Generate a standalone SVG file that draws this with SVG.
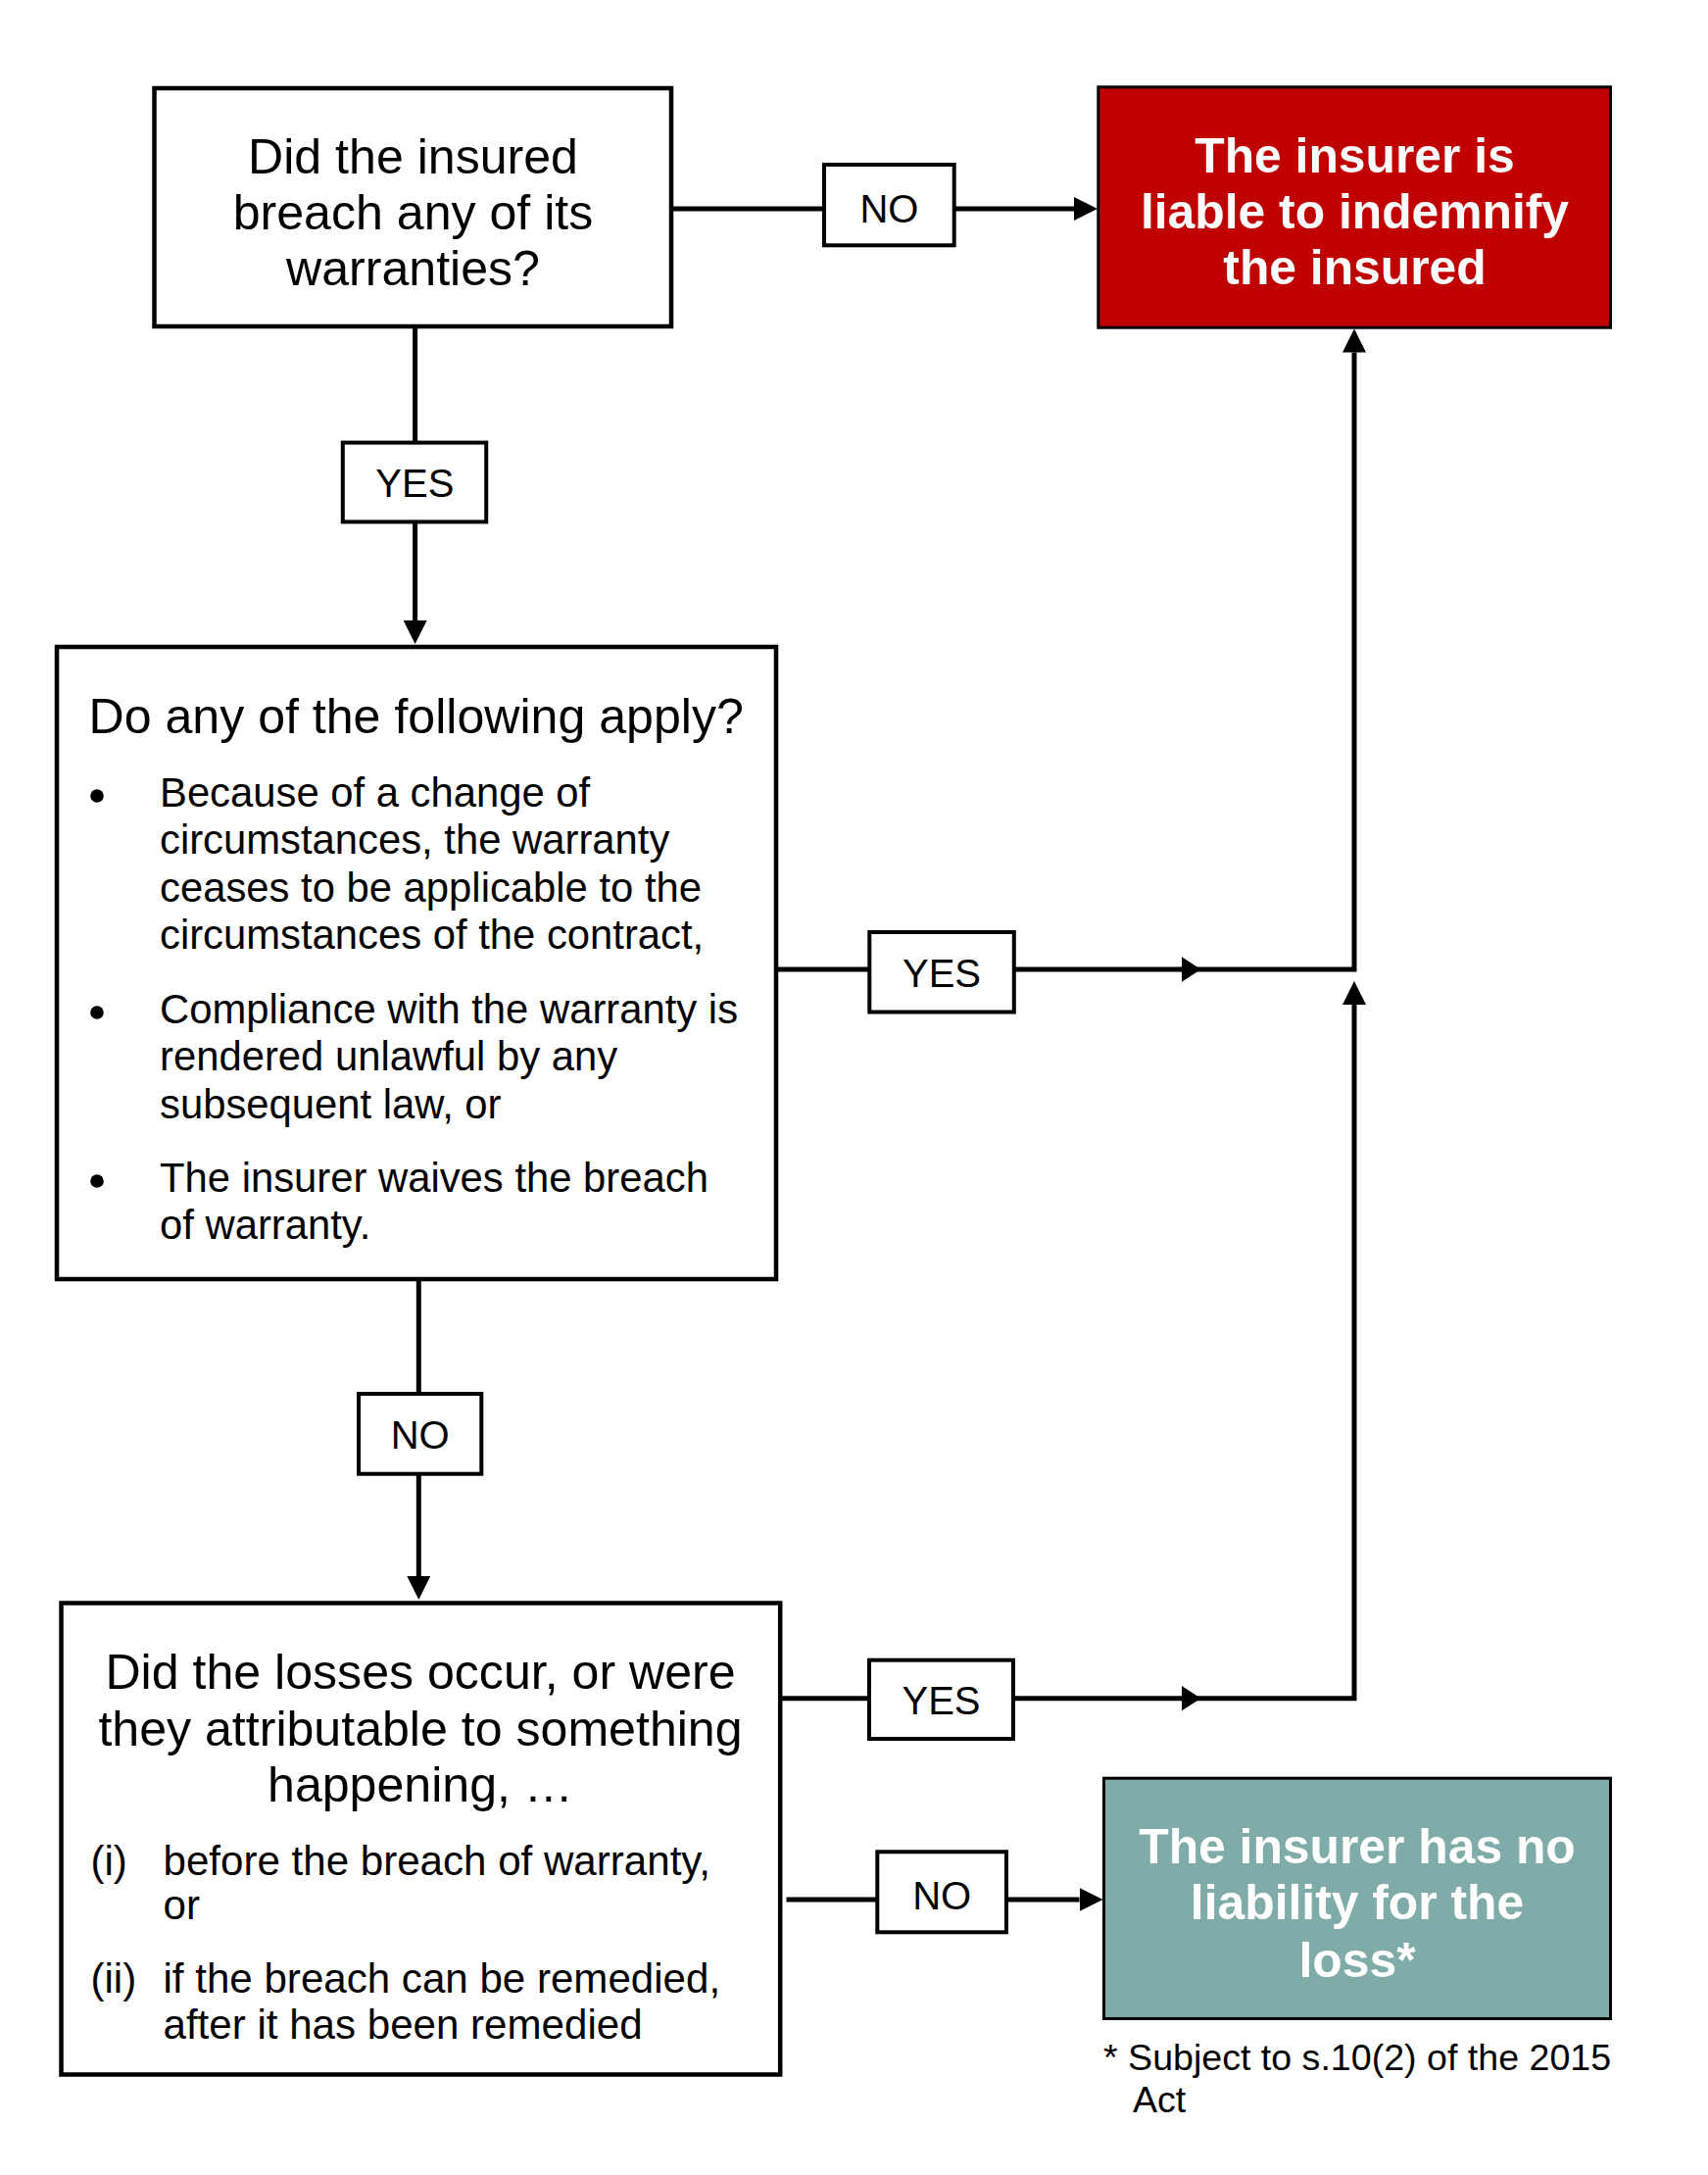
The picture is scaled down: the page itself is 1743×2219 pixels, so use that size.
<svg xmlns="http://www.w3.org/2000/svg" width="1743" height="2219" viewBox="0 0 1743 2219">
<style>
text{font-family:"Liberation Sans",Arial,Helvetica,sans-serif;fill:#000}
.box{fill:#fff;stroke:#000;stroke-width:4.5}
.lbl{fill:#fff;stroke:#000;stroke-width:4}
.q{font-size:50.1px;text-anchor:middle}
.b{font-size:41.8px}
.i{font-size:42.1px}
.l{font-size:40px;text-anchor:middle}
.w{font-size:49.8px;font-weight:bold;text-anchor:middle;fill:#fff}
.c{fill:none;stroke:#000;stroke-width:5;stroke-linejoin:miter}
</style>
<defs>
<marker id="arr" markerUnits="userSpaceOnUse" viewBox="0 0 24 24" refX="0" refY="12" markerWidth="24" markerHeight="24" orient="auto"><path d="M0,0 L24,12 L0,24 Z" fill="#000"/></marker>
<marker id="arrm" markerUnits="userSpaceOnUse" viewBox="0 0 20 26" refX="0" refY="13" markerWidth="20" markerHeight="26" orient="auto"><path d="M0,0 L20,13 L0,26 Z" fill="#000"/></marker>
</defs>
<rect width="1743" height="2219" fill="#fff"/>
<g id="connectors">
<path class="c" d="M423.6,333 V451.6"/>
<path class="c" d="M423.6,532.4 V633" marker-end="url(#arr)"/>
<path class="c" d="M685,213 H841"/>
<path class="c" d="M973.7,213 H1096" marker-end="url(#arr)"/>
<path class="c" d="M792,989 H887.3"/>
<path class="c" d="M1034.8,989 H1205.5" marker-end="url(#arrm)"/>
<path class="c" d="M1205,989 H1382 V359.5" marker-end="url(#arr)"/>
<path class="c" d="M427.3,1305 V1422"/>
<path class="c" d="M427.3,1503.7 V1608" marker-end="url(#arr)"/>
<path class="c" d="M796,1732.7 H887"/>
<path class="c" d="M1034,1732.7 H1205.5" marker-end="url(#arrm)"/>
<path class="c" d="M1205,1732.7 H1382 V1025" marker-end="url(#arr)"/>
<path class="c" d="M802.5,1938 H895.3"/>
<path class="c" d="M1027,1938 H1101.5" marker-end="url(#arr)"/>
</g>
<g id="q1">
<rect class="box" x="157.5" y="90" width="527.5" height="243"/>
<text class="q" x="421.5" y="177.2">Did the insured</text>
<text class="q" x="421.5" y="233.8">breach any of its</text>
<text class="q" x="421.5" y="291">warranties?</text>
</g>
<g id="liable">
<rect x="1120.8" y="88.8" width="522.7" height="245.4" fill="#C00000" stroke="#000" stroke-width="3"/>
<text class="w" x="1382.5" y="176">The insurer is</text>
<text class="w" x="1382.5" y="233.3">liable to indemnify</text>
<text class="w" x="1382.5" y="290">the insured</text>
</g>
<g id="label-no-1">
<rect class="lbl" x="841" y="168" width="132.7" height="82.3"/>
<text class="l" x="907.4" y="226.7">NO</text>
</g>
<g id="label-yes-1">
<rect class="lbl" x="349.8" y="451.6" width="146.4" height="80.8"/>
<text class="l" x="423.3" y="506.7">YES</text>
</g>
<g id="q2">
<rect class="box" x="58" y="660" width="734" height="645"/>
<text x="90.5" y="748" style="font-size:50.1px">Do any of the following apply?</text>
<circle cx="99" cy="812" r="6.8"/>
<circle cx="99" cy="1033" r="6.8"/>
<circle cx="99" cy="1205" r="6.8"/>
<text class="b" x="163" y="823">Because of a change of</text>
<text class="b" x="163" y="871.3">circumstances, the warranty</text>
<text class="b" x="163" y="919.6">ceases to be applicable to the</text>
<text class="b" x="163" y="967.9">circumstances of the contract,</text>
<text class="b" x="163" y="1044">Compliance with the warranty is</text>
<text class="b" x="163" y="1092.3">rendered unlawful by any</text>
<text class="b" x="163" y="1140.6">subsequent law, or</text>
<text class="b" x="163" y="1216">The insurer waives the breach</text>
<text class="b" x="163" y="1264.3">of warranty.</text>
</g>
<g id="label-yes-2">
<rect class="lbl" x="887.3" y="951" width="147.5" height="81.5"/>
<text class="l" x="961" y="1006.7">YES</text>
</g>
<g id="label-no-2">
<rect class="lbl" x="366" y="1422" width="125.3" height="81.7"/>
<text class="l" x="428.7" y="1478.3">NO</text>
</g>
<g id="q3">
<rect class="box" x="62.5" y="1635.5" width="733.7" height="481"/>
<text class="q" x="429" y="1723">Did the losses occur, or were</text>
<text class="q" x="429" y="1780.5">they attributable to something</text>
<text class="q" x="429" y="1838">happening, …</text>
<text class="i" x="92.5" y="1912.5">(i)</text>
<text class="i" x="166.5" y="1912.5">before the breach of warranty,</text>
<text class="i" x="166.5" y="1958.2">or</text>
<text class="i" x="92.5" y="2032.6">(ii)</text>
<text class="i" x="166.5" y="2032.6">if the breach can be remedied,</text>
<text class="i" x="166.5" y="2079.5">after it has been remedied</text>
</g>
<g id="label-yes-3">
<rect class="lbl" x="887" y="1693.7" width="147" height="80.3"/>
<text class="l" x="960.5" y="1748.7">YES</text>
</g>
<g id="label-no-3">
<rect class="lbl" x="895.3" y="1889.3" width="131.7" height="82"/>
<text class="l" x="961.2" y="1948.3">NO</text>
</g>
<g id="noliability">
<rect x="1126.5" y="1814.2" width="517" height="245.3" fill="#7FACA9" stroke="#000" stroke-width="3"/>
<text class="w" x="1385" y="1901">The insurer has no</text>
<text class="w" x="1385" y="1958.3">liability for the</text>
<text class="w" x="1385" y="2016.7">loss*</text>
</g>
<g id="footnote">
<text x="1126" y="2111.7" style="font-size:37.6px">* Subject to s.10(2) of the 2015</text>
<text x="1156" y="2154.5" style="font-size:37.6px">Act</text>
</g>
</svg>
